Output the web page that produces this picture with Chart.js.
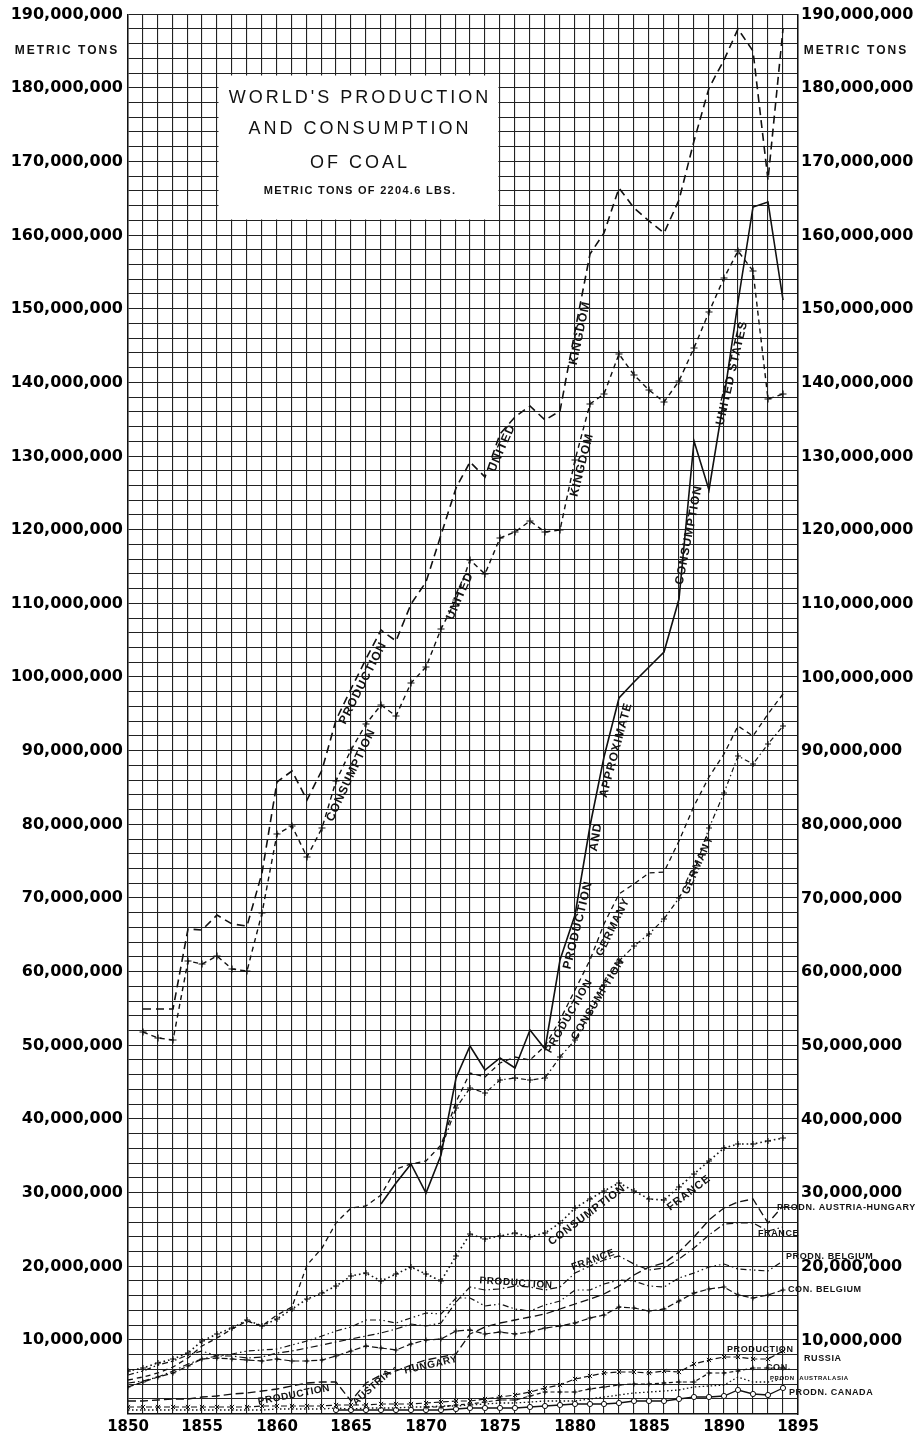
<!DOCTYPE html>
<html><head><meta charset="utf-8">
<script src="https://cdn.jsdelivr.net/npm/chart.js@4.4.1/dist/chart.umd.min.js"></script>
<style>html,body{margin:0;padding:0;background:#fff}canvas{display:block}</style>
</head><body>
<canvas id="c" width="923" height="1438"></canvas>
<script>
// ---- categories (years) ----
const YEARS = [1850,1851,1852,1853,1854,1855,1856,1857,1858,1859,
               1860,1861,1862,1863,1864,1865,1866,1867,1868,1869,
               1870,1871,1872,1873,1874,1875,1876,1877,1878,1879,
               1880,1881,1882,1883,1884,1885,1886,1887,1888,1889,
               1890,1891,1892,1893,1894];

// ---- series values, millions of metric tons ----
const UK_PROD = [null,55,55,55,65.9,65.7,67.7,66.5,66.2,73.5,
                 85.8,87.3,83.3,87.5,94.2,98.5,102.5,106.5,105,110,
                 113,119.3,125.7,129.2,127.2,133,135.4,136.9,134.9,136.2,
                 147,157.5,160.3,166.4,163.7,162,160.3,164.8,172.9,180.1,
                 183.8,188.1,185,167.5,188];
const UK_CONS = [null,51.8,51.1,50.8,61.5,61.1,62.2,60.4,60.2,68,
                 78.7,79.8,75.6,79.6,86,90.2,93.7,96.2,94.8,99.3,
                 101.4,106.6,110.5,116,114.1,118.9,119.8,121.2,119.8,120,
                 129.5,137.1,138.5,143.9,141,139,137.4,140.3,144.8,149.6,
                 154.3,157.9,155.2,137.8,138.5];
const US_PROD_CONS = [null,null,null,null,null,null,null,null,null,null,
                 null,null,null,null,null,null,null,28.5,31.4,34,
                 30,35.2,45.6,50,46.7,48.4,47,52.2,49.5,61.6,
                 67.8,79.8,89.2,97.2,99.4,101.4,103.5,110.7,132.1,125.5,
                 138,151,163.9,164.6,151.3];
const DE_PROD = [4.6,5.0,5.6,6.4,7.6,9.3,10.3,11.5,12.6,12.0,
                 13.4,14.5,20.2,22.6,26.0,28.0,28.2,29.8,33.2,33.9,
                 34.3,36.5,42.4,46.3,45.8,47.7,48.5,48.0,50.0,53.5,
                 57.6,61.6,66.5,70.6,72.0,73.4,73.6,77.8,82.6,86.5,
                 89.6,93.4,92.0,95.0,97.8];
const DE_CONS = [null,null,null,null,null,null,null,null,null,null,
                 null,null,null,null,null,null,null,null,null,null,
                 null,36,41.5,44.2,43.6,45.4,45.6,45.4,45.6,48.5,
                 50.8,54.5,58.3,61.5,63.5,65.2,67.2,70,73.6,79.6,
                 84.3,89.4,88.3,90.9,93.4];
const FR_CONS = [5.8,6.3,6.9,7.4,8.3,9.9,10.8,11.7,12.8,12.0,
                 12.9,14.3,15.6,16.4,17.4,18.8,19.2,18.1,19.0,20.0,
                 19.0,18.0,21.5,24.4,23.7,24.2,24.6,24.0,24.6,26.0,
                 28.0,29.2,30.3,31.4,30.3,29.2,29.0,30.8,32.6,34.3,
                 36.1,36.6,36.6,37.0,37.5];
const FR_PROD = [4.2,4.5,5.0,5.8,6.8,7.4,7.9,7.9,7.6,7.8,
                 8.3,8.6,8.9,9.4,9.8,10.2,10.6,11.0,11.6,12.2,
                 12.0,12.3,15.2,17.3,16.8,17.0,17.4,17.2,16.9,17.3,
                 19.2,20.1,20.9,21.5,20.4,19.6,19.8,21.0,22.5,24.3,
                 25.8,26.0,25.9,24.9,25.4];
const AH_PROD = [1.7,1.8,1.9,2.0,2.1,2.3,2.5,2.7,2.9,3.1,
                 3.4,3.8,4.2,4.3,4.4,1.7,4.2,5.3,5.9,6.6,
                 7.3,7.7,8.2,10.9,11.8,12.3,12.8,13.2,13.6,14.3,
                 15.0,15.6,16.3,17.4,18.9,20.0,20.5,22.0,24.0,26.3,
                 28.0,28.8,29.2,26.0,28.2];
const BE_PROD = [5.3,5.9,6.6,7.2,8.0,8.6,7.9,8.2,8.5,8.7,
                 8.8,9.4,9.9,10.6,11.3,11.8,12.7,12.8,12.3,13.0,
                 13.7,13.6,15.7,15.8,14.7,15.0,14.3,14.0,14.8,15.4,
                 16.9,16.9,17.6,18.2,18.1,17.4,17.3,18.4,19.2,19.9,
                 20.4,19.7,19.6,19.4,20.8];
const BE_CONS = [3.7,4.3,5.0,5.6,6.5,7.4,7.6,7.5,7.3,7.2,
                 7.4,7.2,7.2,7.3,7.9,8.5,9.2,9.0,8.7,9.5,
                 10.0,10.2,11.3,11.4,10.9,11.2,10.8,11.1,11.7,12.0,
                 12.4,13.0,13.4,14.5,14.4,14.0,14.2,15.4,16.4,17.0,
                 17.3,16.2,15.8,16.2,16.8];
const RU_PROD = [0.9,0.9,0.9,0.95,0.95,1.0,1.0,1.0,1.0,1.05,
                 1.05,1.1,1.1,1.15,1.2,1.2,1.25,1.3,1.35,1.4,
                 1.5,1.6,1.7,1.8,2.0,2.3,2.6,3.0,3.5,4.0,
                 4.8,5.2,5.5,5.7,5.7,5.6,5.8,5.7,6.8,7.3,
                 7.7,7.7,7.5,7.5,8.6];
const RU_CONS = [null,null,null,null,null,null,null,null,null,null,
                 null,null,null,null,null,null,null,null,null,null,
                 0.9,1.0,1.2,1.4,1.6,1.9,1.9,2.4,3.0,3.0,
                 3.0,3.4,3.7,3.9,4.1,4.1,4.2,4.3,4.4,5.5,
                 5.6,5.9,6.2,6.2,6.3];
const AU_PROD = [0.5,0.5,0.5,0.5,0.55,0.55,0.6,0.6,0.6,0.6,
                 0.65,0.65,0.7,0.7,0.75,0.7,0.75,0.8,0.85,0.9,
                 1.0,1.05,1.1,1.2,1.3,1.5,1.5,1.6,1.7,1.7,
                 1.8,2.0,2.3,2.6,2.8,3.0,3.1,3.2,3.7,3.8,
                 4.0,5.0,4.4,4.3,4.8];
const CA_PROD = [null,null,null,null,null,null,null,null,null,null,
                 null,null,null,null,0.5,0.6,0.5,0.5,0.6,0.6,
                 0.6,0.6,0.7,0.8,0.8,0.8,0.8,0.9,1.1,1.2,
                 1.3,1.4,1.4,1.5,1.7,1.7,1.8,2.1,2.3,2.3,
                 2.4,3.2,2.7,2.6,3.5];

// ---- axis ----
const X_MIN = 1850, X_MAX = 1895, X_LABEL_EVERY = 5;
const Y_MIN = 0, Y_MAX = 190, Y_GRID_STEP = 2, Y_LABEL_EVERY = 10;
const AXIS_UNIT = 'METRIC TONS';

// ---- texts ----
const TITLE_LINES = ["WORLD'S PRODUCTION", "AND CONSUMPTION", "OF COAL", "METRIC TONS OF 2204.6 LBS."];
// box in data units: [yearFrom, yearTo, valueFrom, valueTo]
const TITLE_BOX = [1856, 1875, 162, 182];
// [text, year, value, angleDeg, sizePx, align]
const NOTES = [
  ['PRODUCTION', 1865.8, 99.2, -63, 12, 'center'],
  ['CONSUMPTION', 1865.0, 86.8, -65, 12, 'center'],
  ['UNITED', 1875.1, 131.2, -66, 12, 'center'],
  ['KINGDOM', 1880.35, 146.8, -78, 12, 'center'],
  ['UNITED', 1872.3, 111.1, -66, 12, 'center'],
  ['KINGDOM', 1880.5, 128.8, -76, 12, 'center'],
  ['PRODUCTION', 1880.2, 66.4, -76, 12, 'center'],
  ['AND', 1881.4, 78.3, -80, 12, 'center'],
  ['APPROXIMATE', 1882.8, 90.1, -75, 12, 'center'],
  ['CONSUMPTION', 1887.7, 119.3, -79, 12, 'center'],
  ['UNITED STATES', 1890.6, 141.4, -77, 12, 'center'],
  ['GERMANY', 1882.6, 66.1, -64, 11, 'center'],
  ['GERMANY', 1888.3, 74.5, -66, 11, 'center'],
  ['PRODUCTION', 1879.6, 54.1, -60, 11, 'center'],
  ['CONSUMPTION', 1881.6, 56.4, -59, 11, 'center'],
  ['CONSUMPTION', 1880.8, 27.0, -37, 11, 'center'],
  ['FRANCE', 1887.7, 30.0, -37, 11, 'center'],
  ['PRODUCTION', 1876.05, 17.8, 4, 10, 'center'],
  ['FRANCE', 1881.2, 20.9, -20, 10, 'center'],
  ['PRODUCTION', 1861.15, 2.6, -11, 10, 'center'],
  ['AUSTRIA -', 1866.6, 3.9, -42, 10, 'center'],
  ['HUNGARY', 1870.35, 6.6, -13, 10, 'center'],
  ['PRODN. AUSTRIA-HUNGARY', 1893.6, 28.0, 0, 9, 'left'],
  ['FRANCE', 1892.3, 24.5, 0, 9, 'left'],
  ['PRODN. BELGIUM', 1894.2, 21.3, 0, 9, 'left'],
  ['CON. BELGIUM', 1894.3, 16.9, 0, 9, 'left'],
  ['PRODUCTION', 1890.2, 8.7, 0, 9, 'left'],
  ['RUSSIA', 1895.4, 7.5, 0, 9, 'left'],
  ['CON.', 1892.85, 6.2, 0, 9, 'left'],
  ['PRODN  AUSTRALASIA', 1893.1, 4.9, 0, 6, 'left'],
  ['PRODN. CANADA', 1894.4, 2.9, 0, 9, 'left']
];

const INK = '#111';
function pts(arr){ return YEARS.map((yr,i)=>({x:yr, y:arr[i]})); }
function ds(label, arr, st){
  return Object.assign({label, data: pts(arr), borderColor: INK, backgroundColor: INK,
    borderWidth: 1.2, pointRadius: 0, tension: 0, spanGaps: false,
    pointBorderColor: INK, pointBackgroundColor: '#fff', pointBorderWidth: 1}, st);
}

const datasets = [
  ds('United Kingdom production', UK_PROD, {borderDash:[8,5], borderWidth:1.6}),
  ds('United Kingdom consumption', UK_CONS, {borderDash:[5,4], borderWidth:1.4, pointStyle:'cross', pointRadius:3.5, pointBorderWidth:1.2}),
  ds('United States production and approximate consumption', US_PROD_CONS, {borderWidth:1.6}),
  ds('Germany production', DE_PROD, {borderDash:[5,4], borderWidth:1.3}),
  ds('Germany consumption', DE_CONS, {borderDash:[5,3,1.5,3], borderWidth:1.2, pointStyle:'cross', pointRadius:3, pointBorderWidth:1.1}),
  ds('France consumption', FR_CONS, {borderDash:[1.6,3], borderWidth:1.6, pointStyle:'cross', pointRadius:3, pointBorderWidth:1.1}),
  ds('France production', FR_PROD, {borderDash:[7,3,1.5,3], borderWidth:1.2}),
  ds('Austria-Hungary production', AH_PROD, {borderDash:[8,4], borderWidth:1.3}),
  ds('Belgium production', BE_PROD, {borderDash:[6,3,1.5,3,1.5,3], borderWidth:1.2}),
  ds('Belgium consumption', BE_CONS, {borderDash:[6,3], borderWidth:1.2, pointStyle:'cross', pointRadius:2.5}),
  ds('Russia production', RU_PROD, {borderDash:[6,3], borderWidth:1.2, pointStyle:'crossRot', pointRadius:3}),
  ds('Russia consumption', RU_CONS, {borderDash:[4,3], borderWidth:1.2, pointStyle:'cross', pointRadius:2.5}),
  ds('Australasia production', AU_PROD, {borderDash:[1.5,2.5], borderWidth:1.3}),
  ds('Canada production', CA_PROD, {borderWidth:1.3, pointStyle:'circle', pointRadius:2.6})
];

function yLabel(v){
  const r = Math.round(v);
  if (r % Y_LABEL_EVERY !== 0 || r === 0) return '';
  return (r * 1000000).toLocaleString('en-US');
}

const notesPlugin = {
  id: 'notes',
  beforeDatasetsDraw(chart){
    const {ctx, scales:{x, y}} = chart;
    const l = x.getPixelForValue(TITLE_BOX[0]), r = x.getPixelForValue(TITLE_BOX[1]);
    const t = y.getPixelForValue(TITLE_BOX[3]), b = y.getPixelForValue(TITLE_BOX[2]);
    ctx.save(); ctx.fillStyle = '#fff';
    ctx.fillRect(l + 1.5, t + 1.5, r - l - 3, b - t - 3);
    ctx.restore();
  },
  afterDatasetsDraw(chart){
    const {ctx, chartArea, scales:{x, y}} = chart;
    ctx.save();
    ctx.fillStyle = INK;
    ctx.textBaseline = 'middle';
    // title
    const cx = (x.getPixelForValue(TITLE_BOX[0]) + x.getPixelForValue(TITLE_BOX[1])) / 2;
    const rows = [178.7, 174.5, 169.9, 166.1];
    ctx.textAlign = 'center';
    TITLE_LINES.forEach((s, i) => {
      if (i < 3) { ctx.font = '18px "Liberation Sans", Arial, sans-serif'; ctx.letterSpacing = '3px'; }
      else { ctx.font = 'bold 11px "Liberation Sans", Arial, sans-serif'; ctx.letterSpacing = '1.3px'; }
      ctx.fillText(s, cx + 1.5, y.getPixelForValue(rows[i]));
    });
    // unit labels
    ctx.font = 'bold 12px "Liberation Sans", Arial, sans-serif';
    ctx.letterSpacing = '2px';
    const uy = y.getPixelForValue(185.1);
    ctx.fillText(AXIS_UNIT, chartArea.left - 61, uy);
    ctx.fillText(AXIS_UNIT, chartArea.right + 58, uy);
    // line labels
    NOTES.forEach(([s, yr, v, ang, size, align]) => {
      ctx.save();
      ctx.translate(x.getPixelForValue(yr), y.getPixelForValue(v));
      ctx.rotate(ang * Math.PI / 180);
      ctx.font = 'bold ' + size + 'px "Liberation Sans", Arial, sans-serif';
      ctx.letterSpacing = size >= 11 ? '1px' : '0.6px';
      ctx.textAlign = align;
      ctx.fillText(s, 0, 0);
      ctx.restore();
    });
    ctx.restore();
  }
};

const yTickFont = {family: '"DejaVu Sans", "Liberation Sans", Arial, sans-serif', size: 16, weight: 'bold'};
const xTickFont = {family: '"DejaVu Sans", "Liberation Sans", Arial, sans-serif', size: 15, weight: 'bold'};
new Chart(document.getElementById('c'), {
  type: 'line',
  data: { datasets },
  options: {
    responsive: false, animation: false, devicePixelRatio: 1,
    layout: { padding: { top: 14, left: 0, right: 0, bottom: 0 } },
    plugins: { legend: {display:false}, tooltip: {enabled:false}, title: {display:false} },
    elements: { line: { borderCapStyle: 'butt' } },
    scales: {
      x: {
        type: 'linear', min: X_MIN, max: X_MAX, alignToPixels: true,
        grid: { color: '#222', lineWidth: 1.1, drawTicks: false },
        border: { color: '#111', width: 1.5 },
        ticks: { stepSize: 1, autoSkip: false, maxRotation: 0, padding: 4, color: '#000', font: xTickFont,
          callback: v => (Math.round(v) % X_LABEL_EVERY === 0) ? String(Math.round(v)) : '' },
        afterFit: s => { s.height = 24; }
      },
      y: {
        type: 'linear', position: 'left', min: Y_MIN, max: Y_MAX, alignToPixels: true,
        grid: { color: '#222', lineWidth: 1.1, drawTicks: false },
        border: { color: '#111', width: 1.5 },
        ticks: { stepSize: Y_GRID_STEP, autoSkip: false, padding: 5, color: '#000', font: yTickFont, callback: yLabel },
        afterFit: s => { s.width = 128; }
      },
      y2: {
        type: 'linear', position: 'right', min: Y_MIN, max: Y_MAX,
        grid: { drawOnChartArea: false, drawTicks: false },
        border: { color: '#111', width: 1.5 },
        ticks: { stepSize: Y_GRID_STEP, autoSkip: false, padding: 3, color: '#000', font: yTickFont, callback: yLabel },
        afterFit: s => { s.width = 125; }
      }
    }
  },
  plugins: [notesPlugin]
});
</script>
</body></html>
